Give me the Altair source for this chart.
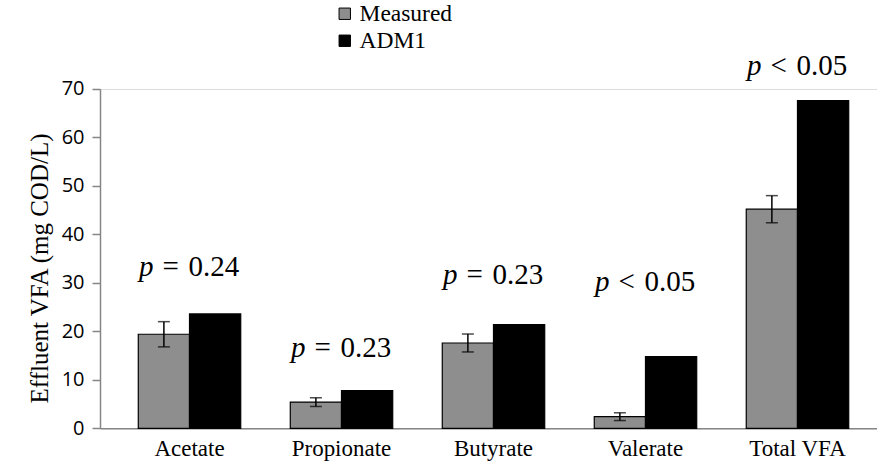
import altair as alt
import pandas as pd

# Effluent VFA concentrations (mg COD/L): measured vs. ADM1 prediction
categories = ["Acetate", "Propionate", "Butyrate", "Valerate", "Total VFA"]
series = ["Measured", "ADM1"]
measured = [19.4, 5.4, 17.6, 2.4, 45.2]
measured_err = [2.6, 0.9, 1.85, 0.8, 2.8]
adm1 = [23.6, 7.8, 21.4, 14.8, 67.6]

# p-value notes, with the height (in axis units) at which each one sits
p_relation = ["= 0.24", "= 0.23", "= 0.23", "< 0.05", "< 0.05"]
p_level = [31.4, 14.8, 29.7, 28.3, 72.9]

y_ticks = [0, 10, 20, 30, 40, 50, 60, 70]

# a slightly widened non-breaking space between the relation sign and the value
WIDE_SPACE = "\u00a0\u200a"

bars_df = pd.DataFrame(
    [{"category": c, "series": "Measured", "value": v} for c, v in zip(categories, measured)]
    + [{"category": c, "series": "ADM1", "value": v} for c, v in zip(categories, adm1)]
)
err_df = pd.DataFrame(
    {
        "category": categories,
        "series": ["Measured"] * len(categories),
        "lo": [m - e for m, e in zip(measured, measured_err)],
        "hi": [m + e for m, e in zip(measured, measured_err)],
    }
)
notes_df = pd.DataFrame(
    {
        "category": categories,
        "level": p_level,
        "rel": [r.replace(" ", WIDE_SPACE) for r in p_relation],
        "p": ["p"] * len(categories),
    }
)

serif = "Liberation Serif"
axis_grey = "#868686"

x_enc = alt.X(
    "category:N",
    sort=categories,
    scale=alt.Scale(paddingInner=0.326, paddingOuter=0.219, align=0.575),
    axis=alt.Axis(
        title=None,
        labelAngle=0,
        labelFont=serif,
        labelFontSize=23,
        labelColor="black",
        labelPadding=9,
        ticks=False,
        domainColor=axis_grey,
        domainWidth=1.5,
    ),
)
xoff_enc = alt.XOffset(
    "series:N", sort=series, scale=alt.Scale(domain=series, paddingInner=0, paddingOuter=0)
)
y_scale = alt.Scale(domain=[0, 70], nice=False)
y_axis = alt.Axis(
    values=y_ticks,
    grid=False,
    title="Effluent VFA (mg COD/L)",
    titleFont=serif,
    titleFontSize=25,
    titleFontWeight="normal",
    titleColor="black",
    titlePadding=9,
    titleY=179,
    labelFont="Open Sans",
    labelFontSize=20,
    labelColor="black",
    labelPadding=8,
    tickSize=8,
    tickColor=axis_grey,
    tickWidth=1.5,
    domainColor=axis_grey,
    domainWidth=1.5,
)

bars = (
    alt.Chart(bars_df)
    .mark_bar(stroke="black", strokeWidth=1.2)
    .encode(
        x=x_enc,
        xOffset=xoff_enc,
        y=alt.Y("value:Q", scale=y_scale, axis=y_axis),
        color=alt.Color(
            "series:N",
            sort=series,
            scale=alt.Scale(domain=series, range=["#8e8e8e", "#000000"]),
            legend=alt.Legend(
                title=None,
                orient="none",
                legendX=233,
                legendY=-87,
                labelFont=serif,
                labelFontSize=23.5,
                labelColor="black",
                labelOffset=3,
                symbolType="square",
                symbolSize=130,
                symbolStrokeColor="black",
                symbolStrokeWidth=1,
                rowPadding=2,
            ),
        ),
    )
)

err_base = alt.Chart(err_df).encode(x=alt.X("category:N", sort=categories), xOffset=xoff_enc)
err_rule = err_base.mark_rule(color="black", strokeWidth=1.5).encode(
    y=alt.Y("lo:Q", scale=y_scale), y2="hi:Q"
)
cap_lo = err_base.mark_tick(color="black", thickness=1.5, size=12, orient="horizontal").encode(
    y=alt.Y("lo:Q", scale=y_scale)
)
cap_hi = err_base.mark_tick(color="black", thickness=1.5, size=12, orient="horizontal").encode(
    y=alt.Y("hi:Q", scale=y_scale)
)

# italic "p" ends just left of the split point; the relation starts a word-gap later
notes_base = alt.Chart(notes_df).encode(
    x=alt.X("category:N", sort=categories), y=alt.Y("level:Q", scale=y_scale)
)
p_mark = notes_base.mark_text(
    font=serif, fontSize=29, fontStyle="italic", align="right", baseline="alphabetic", dx=-36, color="black"
).encode(text="p:N")
rel_mark = notes_base.mark_text(
    font=serif, fontSize=29, align="left", baseline="alphabetic", dx=-27, color="black"
).encode(text="rel:N")

chart = (
    alt.layer(bars, err_rule, cap_lo, cap_hi, p_mark, rel_mark)
    .properties(
        width=777,
        height=339.3,
        autosize=alt.AutoSizeParams(type="none"),
        padding={"left": 100, "top": 89, "right": 0, "bottom": 40},
    )
    .configure_view(strokeWidth=0)
    .configure(background="white")
)

chart.save("out.html", embed_options={"renderer": "svg", "actions": False})
